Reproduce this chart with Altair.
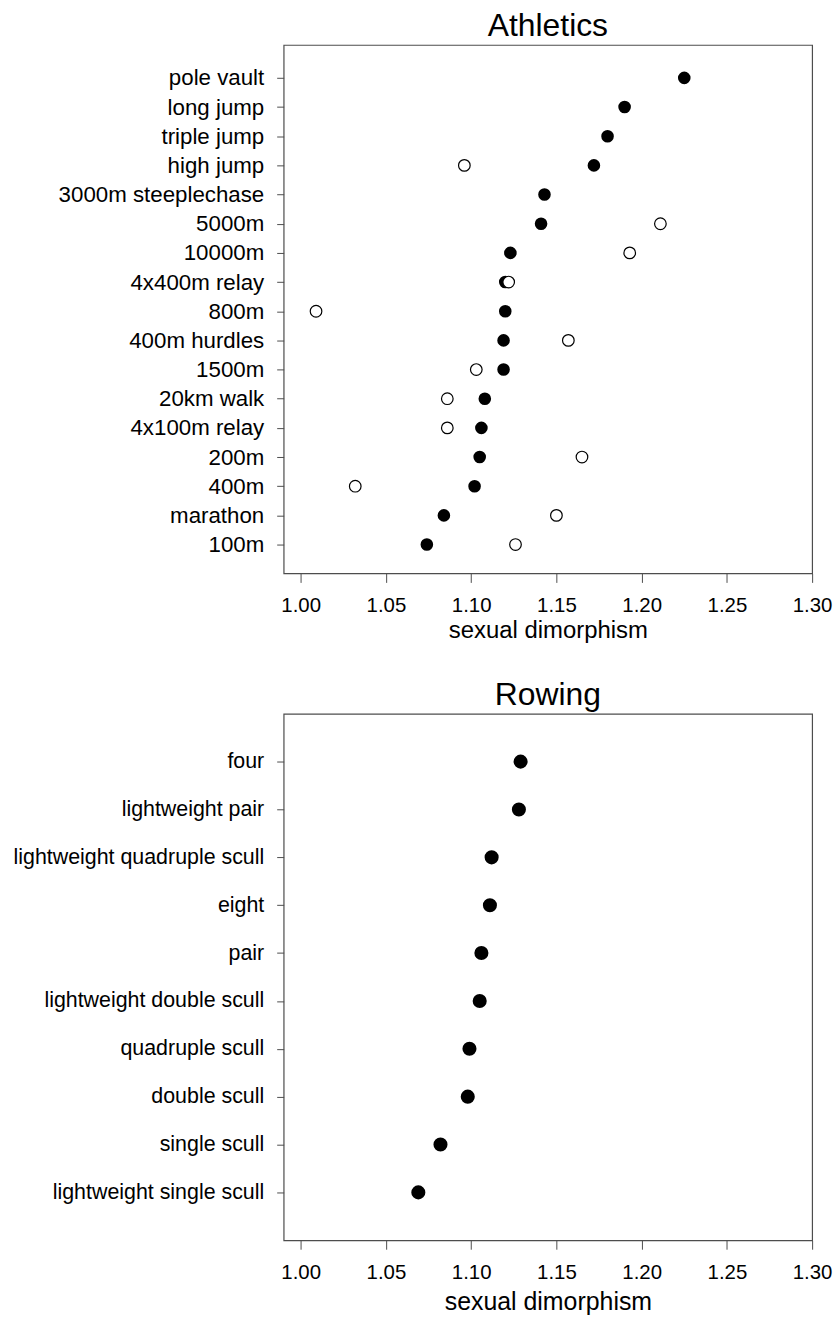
import altair as alt
import pandas as pd

# ---------------- data ----------------
ath_events = ["pole vault", "long jump", "triple jump", "high jump",
              "3000m steeplechase", "5000m\u00a0", "10000m\u00a0", "4x400m relay",
              "800m\u00a0", "400m hurdles", "1500m\u00a0", "20km walk",
              "4x100m relay", "200m\u00a0", "400m\u00a0", "marathon", "100m\u00a0"]
ath_filled = [1.225, 1.190, 1.180, 1.172, 1.143, 1.141, 1.123, 1.120,
              1.120, 1.119, 1.119, 1.108, 1.106, 1.105, 1.102, 1.084, 1.074]
ath_open = [None, None, None, 1.096, None, 1.211, 1.193, 1.122,
            1.009, 1.157, 1.103, 1.086, 1.086, 1.165, 1.032, 1.150, 1.126]

row_events = ["four", "lightweight pair", "lightweight quadruple scull", "eight",
              "pair", "lightweight double scull", "quadruple scull",
              "double scull", "single scull", "lightweight single scull"]
row_values = [1.129, 1.128, 1.112, 1.111, 1.106, 1.105, 1.099, 1.098, 1.082, 1.069]

x_ticks = [1.00, 1.05, 1.10, 1.15, 1.20, 1.25, 1.30]
x_domain = [0.99, 1.30]

FONT = "Liberation Sans"
AXC = "#4d4d4d"


def make_df(events, values):
    n = len(events)
    rows = []
    for i, (e, v) in enumerate(zip(events, values)):
        if v is not None:
            rows.append({"event": e, "rank": n - i, "value": v})
    return pd.DataFrame(rows)


def label_expr(events):
    n = len(events)
    bottom_up = [""] + [events[n - k] for k in range(1, n + 1)]
    arr = "[" + ",".join("'" + s + "'" for s in bottom_up) + "]"
    return arr + "[datum.value]"


def panel(events, series, ydom, height, title, label_size, pt_size,
          x_title_size, x_title_y):
    n = len(events)
    x = alt.X("value:Q",
              scale=alt.Scale(domain=x_domain, nice=False, zero=False),
              axis=alt.Axis(values=x_ticks, format=".2f", title="sexual dimorphism",
                            grid=False, domain=False, tickSize=9, tickColor=AXC,
                            labelPadding=13, labelFontSize=20.5, labelColor="black",
                            labelFlush=False, labelFont=FONT,
                            titleFontSize=x_title_size, titleFontWeight="normal",
                            titleColor="black", titleFont=FONT,
                            titleBaseline="alphabetic", titleY=x_title_y))
    y = alt.Y("rank:Q",
              scale=alt.Scale(domain=ydom, nice=False, zero=False),
              axis=alt.Axis(values=list(range(1, n + 1)), labelExpr=label_expr(events),
                            title=None, grid=False, domain=False, tickSize=7,
                            tickColor=AXC, labelPadding=13, labelFontSize=label_size,
                            labelColor="black", labelFont=FONT, labelOverlap=False,
                            labelLimit=0))
    layers = []
    for vals, filled in series:
        df = make_df(events, vals)
        if filled:
            m = alt.Chart(df).mark_point(shape="circle", filled=True, color="black",
                                         opacity=1, size=pt_size)
        else:
            m = alt.Chart(df).mark_point(shape="circle", filled=True, fill="white",
                                         stroke="black", strokeWidth=1.2, opacity=1,
                                         size=pt_size * 0.85)
        layers.append(m.encode(x=x, y=y))
    return alt.layer(*layers).properties(
        width=531, height=height,
        view=alt.ViewBackground(stroke=AXC, strokeWidth=1.2),
        title=alt.TitleParams(title, fontSize=32, fontWeight="normal", font=FONT,
                              anchor="middle", frame="group", baseline="alphabetic",
                              offset=12, dy=35, color="black"))


ath = panel(ath_events, [(ath_filled, True), (ath_open, False)], [0.01, 18.13], 531,
            "Athletics", 22.4, 160, 24, 64)
row = panel(row_events, [(row_values, True)], [0, 11], 529,
            "Rowing", 21.5, 200, 25, 70)

chart = alt.vconcat(ath, row, spacing=141, bounds="flush").properties(
    padding={"left": 12, "top": 6, "right": 5, "bottom": 5},
    background="white",
).configure(font=FONT, view=alt.ViewConfig(stroke=AXC, strokeWidth=1.2))

chart.save("out.html", embed_options={"renderer": "svg", "actions": False})
